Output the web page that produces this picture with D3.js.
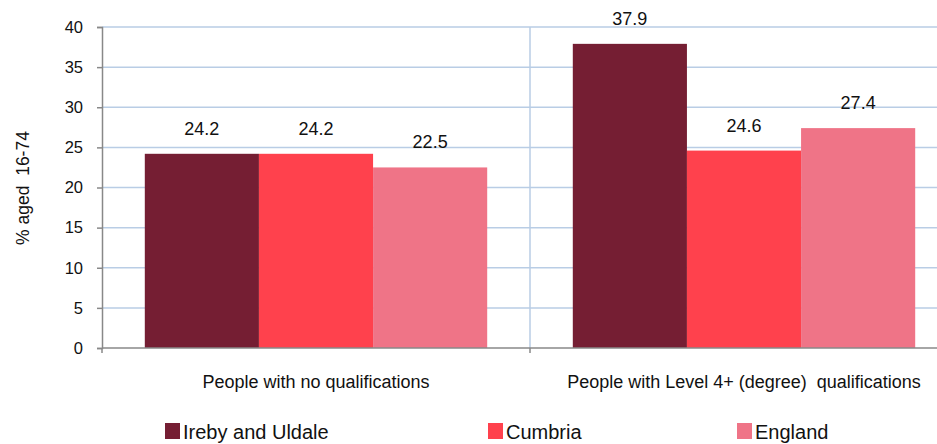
<!DOCTYPE html>
<html>
<head>
<meta charset="utf-8">
<script src="https://cdn.jsdelivr.net/npm/d3@7"></script>
<style>
  html, body { margin: 0; padding: 0; background: #fff; overflow: hidden; }
  svg { display: block; font-family: "Liberation Sans", Arial, sans-serif; }
</style>
</head>
<body>
<svg id="chart" width="937" height="444"></svg>
<script>
const categories = ["People with no qualifications", "People with Level 4+ (degree)  qualifications"];
const seriesNames = ["Ireby and Uldale", "Cumbria", "England"];
const irebyValues = [24.2, 37.9];
const cumbriaValues = [24.2, 24.6];
const englandValues = [22.5, 27.4];
const seriesColors = ["#751e33", "#ff414d", "#ef7487"];
const yTicks = [0, 5, 10, 15, 20, 25, 30, 35, 40];
const yLabel = "% aged  16-74";

const seriesValues = [irebyValues, cumbriaValues, englandValues];

const svg = d3.select("#chart");
const margin = { left: 102, top: 27, right: 958, bottom: 348 };

const x0 = d3.scaleBand().domain(categories).range([margin.left, margin.right]).paddingInner(0).paddingOuter(0);
const x1 = d3.scaleBand().domain(seriesNames).range([0, x0.bandwidth()]).paddingInner(0).paddingOuter(0.375);
const y = d3.scaleLinear().domain([0, 40]).range([margin.bottom, margin.top]);

// horizontal gridlines
svg.append("g")
  .selectAll("line")
  .data(yTicks.filter(t => t > 0))
  .join("line")
  .attr("x1", margin.left).attr("x2", margin.right)
  .attr("y1", d => y(d)).attr("y2", d => y(d))
  .attr("stroke", "#b9cde5").attr("stroke-width", 1.5);

// vertical divider between category groups
svg.append("line")
  .attr("x1", x0(categories[1])).attr("x2", x0(categories[1]))
  .attr("y1", margin.top).attr("y2", margin.bottom)
  .attr("stroke", "#b9cde5").attr("stroke-width", 1.5);

// bars
const groups = svg.append("g").selectAll("g")
  .data(categories)
  .join("g")
  .attr("transform", d => `translate(${x0(d)},0)`);

groups.selectAll("rect")
  .data((c, ci) => seriesNames.map((s, si) => ({ s, v: seriesValues[si][ci], color: seriesColors[si] })))
  .join("rect")
  .attr("x", d => x1(d.s))
  .attr("width", x1.bandwidth())
  .attr("y", d => y(d.v))
  .attr("height", d => y(0) - y(d.v))
  .attr("fill", d => d.color);

groups.selectAll("text")
  .data((c, ci) => seriesNames.map((s, si) => ({ s, v: seriesValues[si][ci] })))
  .join("text")
  .attr("x", d => x1(d.s) + x1.bandwidth() / 2)
  .attr("y", d => y(d.v) - 19)
  .attr("text-anchor", "middle")
  .attr("font-size", 18)
  .attr("fill", "#111")
  .text(d => d.v.toFixed(1));

// y axis
const yAxis = svg.append("g")
  .attr("transform", `translate(${margin.left},0)`)
  .call(d3.axisLeft(y).tickValues(yTicks).tickSize(5).tickPadding(14).tickFormat(d3.format("d")));
yAxis.select(".domain").attr("stroke", "#888").attr("stroke-width", 1.5);
yAxis.selectAll(".tick line").attr("stroke", "#888").attr("stroke-width", 1.5);
yAxis.selectAll(".tick text").attr("font-size", 16.5).attr("fill", "#111")
  .attr("font-family", "Liberation Sans, Arial, sans-serif");

// x axis
const xAxisLine = svg.append("g");
xAxisLine.append("line")
  .attr("x1", margin.left).attr("x2", margin.right)
  .attr("y1", y(0)).attr("y2", y(0))
  .attr("stroke", "#888").attr("stroke-width", 1.5);
xAxisLine.selectAll("line.tick")
  .data([margin.left, x0(categories[1]), margin.right])
  .join("line")
  .attr("class", "tick")
  .attr("x1", d => d).attr("x2", d => d)
  .attr("y1", y(0)).attr("y2", y(0) + 5)
  .attr("stroke", "#888").attr("stroke-width", 1.5);

svg.append("g").selectAll("text")
  .data(categories)
  .join("text")
  .attr("x", d => x0(d) + x0.bandwidth() / 2)
  .attr("y", 388)
  .attr("text-anchor", "middle")
  .attr("font-size", 18)
  .attr("fill", "#111")
  .style("white-space", "pre")
  .text(d => d);

// y axis title
svg.append("text")
  .attr("transform", "translate(29,188) rotate(-90)")
  .attr("text-anchor", "middle")
  .attr("font-size", 17.5)
  .attr("fill", "#111")
  .style("white-space", "pre")
  .text(yLabel);

// legend
const legendX = [165, 488, 737];
const legend = svg.append("g").selectAll("g")
  .data(seriesNames)
  .join("g")
  .attr("transform", (d, i) => `translate(${legendX[i]},423)`);
legend.append("rect")
  .attr("width", 15).attr("height", 16)
  .attr("fill", (d, i) => seriesColors[i]);
legend.append("text")
  .attr("x", 18).attr("y", 16)
  .attr("font-size", 20)
  .attr("fill", "#111")
  .text(d => d);
</script>
</body>
</html>
